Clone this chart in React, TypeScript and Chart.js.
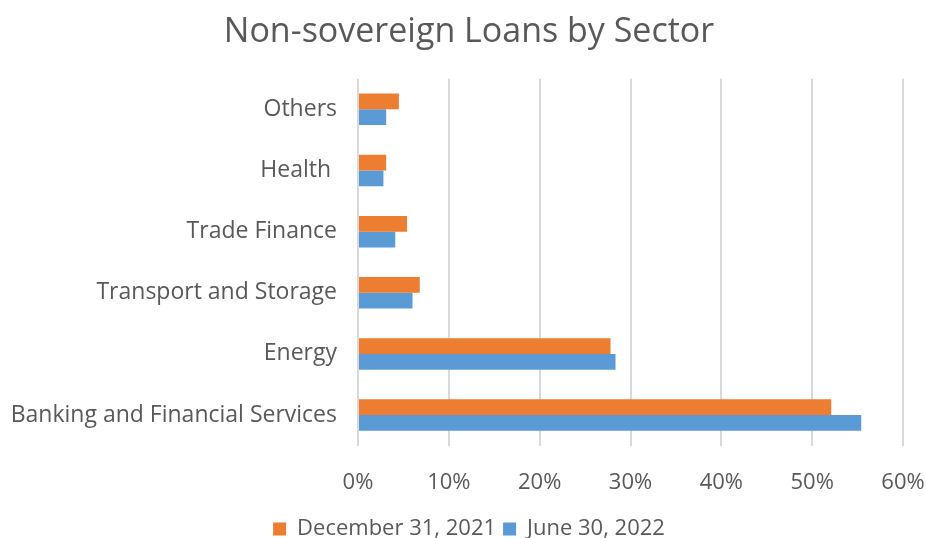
import React, { useEffect, useRef } from "react";
import { Chart, registerables } from "chart.js";

Chart.register(...registerables);

const categories = [
  "Others",
  "Health ",
  "Trade Finance",
  "Transport and Storage",
  "Energy",
  "Banking and Financial Services",
];
const dec2021 = [4.5, 3.1, 5.4, 6.8, 27.8, 52.1];
const jun2022 = [3.1, 2.8, 4.1, 6.0, 28.35, 55.4];
const seriesNames = ["December 31, 2021", "June 30, 2022"];
const xTicks = [0, 10, 20, 30, 40, 50, 60];

const FONT = "'Open Sans', sans-serif";
const TEXT = "#595959";

export default function App() {
  const ref = useRef<HTMLCanvasElement | null>(null);
  useEffect(() => {
    if (!ref.current) return;
    const chart = new Chart(ref.current, {
      type: "bar",
      data: {
        labels: categories,
        datasets: [
          {
            label: seriesNames[0],
            data: dec2021,
            backgroundColor: "#ED7D31",
            categoryPercentage: 0.515,
            barPercentage: 1,
          },
          {
            label: seriesNames[1],
            data: jun2022,
            backgroundColor: "#5B9BD5",
            categoryPercentage: 0.515,
            barPercentage: 1,
          },
        ],
      },
      options: {
        indexAxis: "y",
        animation: false,
        responsive: false,
        maintainAspectRatio: false,
        layout: { padding: { left: 12, right: 0, top: 0, bottom: -12 } },
        plugins: {
          title: {
            display: true,
            text: "Non-sovereign Loans by Sector",
            color: TEXT,
            font: { family: FONT, size: 34, weight: "normal" },
            padding: { top: 12, bottom: 26 },
          },
          legend: {
            position: "bottom",
            labels: {
              color: TEXT,
              font: { family: FONT, size: 22 },
              boxWidth: 13,
              boxHeight: 13,
              padding: 7,
            },
          },
          tooltip: { enabled: false },
        },
        scales: {
          x: {
            min: xTicks[0],
            max: xTicks[xTicks.length - 1],
            afterBuildTicks: (axis: any) => {
              axis.ticks = xTicks.map((v) => ({ value: v }));
            },
            afterFit: (axis: any) => {
              axis.paddingLeft = 0;
              axis.paddingRight = 23;
              axis.height = axis.height - 9;
            },
            grid: { color: "#d9d9d9", lineWidth: 2, drawTicks: false },
            border: { display: false },
            ticks: {
              color: TEXT,
              font: { family: FONT, size: 22 },
              padding: 24,
              callback: (v: any) => v + "%",
            },
          },
          y: {
            afterFit: (axis: any) => {
              axis.width = 346;
            },
            grid: { display: false, drawTicks: false },
            border: { display: false },
            ticks: {
              color: TEXT,
              font: { family: FONT, size: 23 },
              padding: 21,
            },
          },
        },
      },
    });
    return () => chart.destroy();
  }, []);
  return (
    <div style={{ position: "fixed", left: 0, top: 0, width: 926, height: 538, background: "#fff" }}>
      <canvas ref={ref} width={926} height={538} style={{ width: 926, height: 538 }} />
    </div>
  );
}
